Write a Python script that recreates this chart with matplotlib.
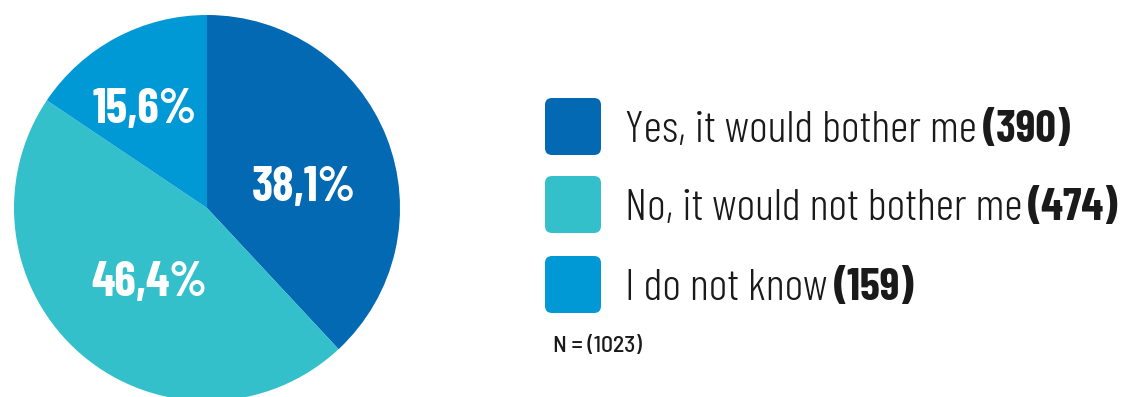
import numpy as np
import matplotlib
matplotlib.use("Agg")
import matplotlib.pyplot as plt
from matplotlib.patches import FancyBboxPatch

labels = ["Yes, it would bother me", "No, it would not bother me", "I do not know"]
counts = [390, 474, 159]
shares = [38.1, 46.4, 15.6]
colors = ["#0369b3", "#33c0cb", "#0099d6"]
n_total = 1023

W, H = 1123, 397
FONT = "Barlow Condensed"

fig = plt.figure(figsize=(W / 100, H / 100), dpi=100)
ax = fig.add_axes([0, 0, 1, 1])

# pie, clockwise from 12 o'clock
cx, cy, rad = 207, 189, 193
wedges, _ = ax.pie(shares, colors=colors, startangle=90, counterclock=False,
                   center=(cx, cy), radius=rad,
                   wedgeprops=dict(linewidth=0))

# percentage labels: (angle shift in degrees, fraction of radius)
label_pos = [(-9.6, 0.51), (2.7, 0.49), (4.3, 0.60)]
for w, s, (dth, fr) in zip(wedges, shares, label_pos):
    mid = np.deg2rad((w.theta1 + w.theta2) / 2 + dth)
    ax.text(cx + fr * rad * np.cos(mid), cy + fr * rad * np.sin(mid),
            f"{s:.1f}%".replace(".", ","), color="white", fontsize=35,
            fontweight="bold", family=FONT, ha="center", va="center")

ax.set_xlim(0, W)
ax.set_ylim(0, H)
ax.set_aspect("equal")
ax.axis("off")

# legend built by hand: rounded squares, label text and bold count
renderer = fig.canvas.get_renderer()
row_y = [H - 126.5, H - 204.5, H - 284.5]
for lab, cnt, col, y in zip(labels, counts, colors, row_y):
    ax.add_patch(FancyBboxPatch((545 + 7, y - 28.5 + 7), 56 - 14, 57 - 14,
                                boxstyle="round,pad=7", fc=col, ec="none"))
    t = ax.text(625, y, lab + " ", fontsize=32.5, fontweight=300, family=FONT,
                color="#1a1a1a", ha="left", va="center_baseline")
    bb = t.get_window_extent(renderer)
    ax.text(bb.x1 - 3, y, f"({cnt})", fontsize=32.5, fontweight="bold",
            family=FONT, color="#1a1a1a", ha="left", va="center_baseline")

ax.text(553, H - 343.5, f"N = ({n_total})", fontsize=17, fontweight=500,
        family="Barlow Semi Condensed", color="#1a1a1a", ha="left",
        va="center_baseline")

fig.savefig("out.png", dpi=100)
